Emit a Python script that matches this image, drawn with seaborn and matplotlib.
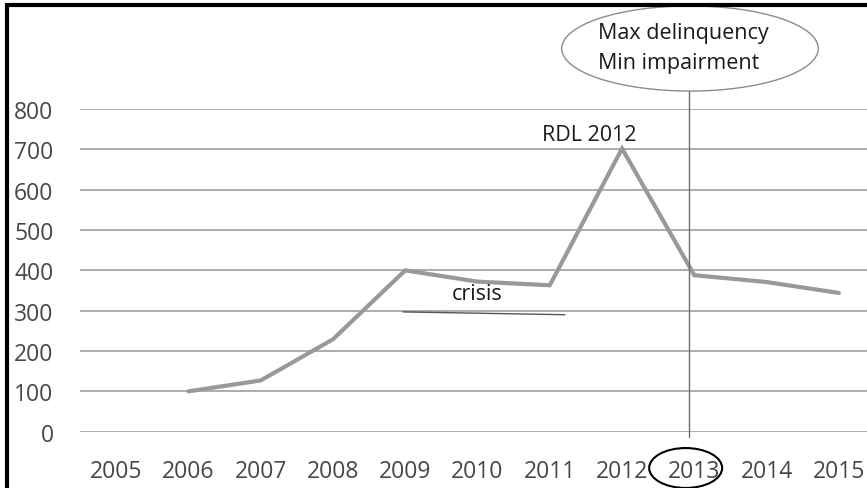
import matplotlib
matplotlib.use("Agg")
import matplotlib.pyplot as plt
from matplotlib.patches import Ellipse, Rectangle
import seaborn as sns
import pandas as pd

# ---- data ----
years = [2005, 2006, 2007, 2008, 2009, 2010, 2011, 2012, 2013, 2014, 2015]
data_years = [2006, 2007, 2008, 2009, 2010, 2011, 2012, 2013, 2014, 2015]
values = [100, 127, 229, 400, 372, 363, 702, 388, 371, 344]
y_ticks = [0, 100, 200, 300, 400, 500, 600, 700, 800]

df = pd.DataFrame({"year": data_years, "value": values})

sns.set_theme(style="white")
plt.rcParams["font.family"] = ["Open Sans", "DejaVu Sans"]

W, H = 867, 489
fig = plt.figure(figsize=(W / 100, H / 100), dpi=100)
# axes in pixel terms: left 80, right 875 (beyond image), top 110, bottom 432.7
ax = fig.add_axes([80 / W, (H - 432.7) / H, 795 / W, (432.7 - 110) / H])

sns.lineplot(data=df, x="year", y="value", ax=ax, color="#999999",
             linewidth=3.0, zorder=3, solid_joinstyle="miter")

ax.set_xlim(2004.5, 2015.5)
ax.set_ylim(0, 800)
ax.set_yticks(y_ticks)
ax.set_yticklabels([str(v) for v in y_ticks])
ax.set_xticks(years)
ax.set_xticklabels([str(y) for y in years])
ax.set_xlabel("")
ax.set_ylabel("")
for s in ax.spines.values():
    s.set_visible(False)
ax.grid(axis="y", color="#a6a6a6", linewidth=1.3)
ax.grid(axis="x", visible=False)
ax.tick_params(axis="both", length=0, labelsize=16.5, labelcolor="#474747")
ax.tick_params(axis="y", pad=19)
ax.tick_params(axis="x", pad=20)

# crisis line and label
ax.plot([2008.97, 2011.21], [297, 290], color="#555555", linewidth=1.0, zorder=2)
ax.text(2009.99, 342, "crisis", ha="center", va="center", fontsize=15.5, color="#1a1a1a")

# RDL 2012 label
ax.text(2011.54, 738, "RDL 2012", ha="center", va="center", fontsize=15.5, color="#1a1a1a")

# vertical line at 2013
ax.plot([2012.93, 2012.93], [-13, 858], color="#6e6e6e", linewidth=1.0,
        clip_on=False, zorder=4)

# ellipse callout at top
ell = Ellipse((2012.94, 950), width=3.55, height=211, facecolor="white",
              edgecolor="#8c8c8c", linewidth=1.0, clip_on=False, zorder=5)
ax.add_patch(ell)
ax.text(2011.67, 990, "Max delinquency", ha="left", va="center", fontsize=15.5,
        color="#1a1a1a", zorder=6, clip_on=False)
ax.text(2011.67, 916, "Min impairment", ha="left", va="center", fontsize=15.5,
        color="#1a1a1a", zorder=6, clip_on=False)

# circle around 2013 tick label
circ = Ellipse((2012.88, -90), width=1.01, height=99, facecolor="none",
               edgecolor="black", linewidth=1.5, clip_on=False, zorder=6)
ax.add_patch(circ)

# outer frame (left/top visible, right/bottom cropped)
frame = Rectangle((7 / W, -0.2), 1.3, 1 - 5.6 / H + 0.2, transform=fig.transFigure,
                  facecolor="none", edgecolor="black", linewidth=3.0, clip_on=False)
fig.patches.append(frame)

fig.savefig("out.png", dpi=100)
